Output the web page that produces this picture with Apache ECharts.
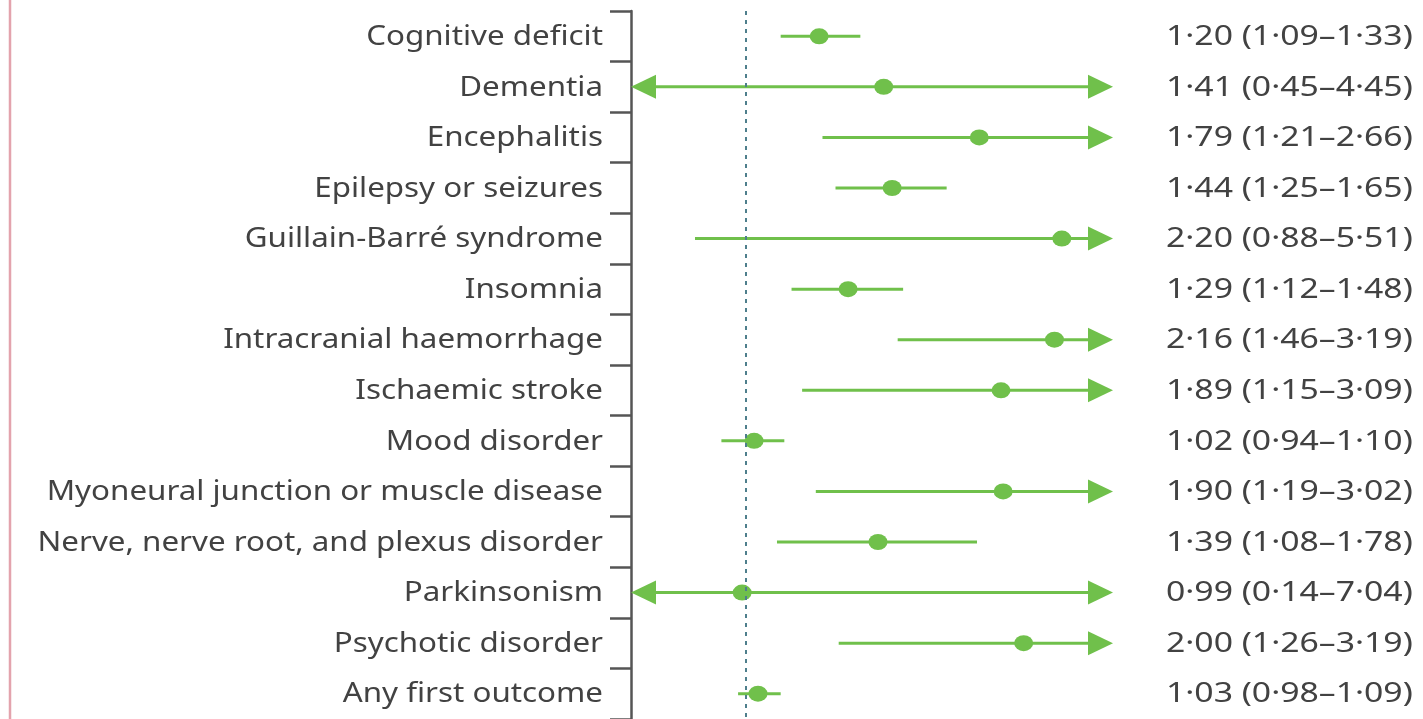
<!DOCTYPE html>
<html>
<head>
<meta charset="utf-8">
<script src="https://cdn.jsdelivr.net/npm/echarts@6/dist/echarts.min.js"></script>
<style>
  html, body { margin: 0; padding: 0; background: #fff; }
  #chart { width: 1423px; height: 719px; }
</style>
</head>
<body>
<div id="chart"></div>
<script>
const outcomes = ['Cognitive deficit', 'Dementia', 'Encephalitis', 'Epilepsy or seizures',
  'Guillain-Barré syndrome', 'Insomnia', 'Intracranial haemorrhage', 'Ischaemic stroke',
  'Mood disorder', 'Myoneural junction or muscle disease', 'Nerve, nerve root, and plexus disorder',
  'Parkinsonism', 'Psychotic disorder', 'Any first outcome'];
const hr = [1.20, 1.41, 1.79, 1.44, 2.20, 1.29, 2.16, 1.89, 1.02, 1.90, 1.39, 0.99, 2.00, 1.03];
const lower = [1.09, 0.45, 1.21, 1.25, 0.88, 1.12, 1.46, 1.15, 0.94, 1.19, 1.08, 0.14, 1.26, 0.98];
const upper = [1.33, 4.45, 2.66, 1.65, 5.51, 1.48, 3.19, 3.09, 1.10, 3.02, 1.78, 7.04, 3.19, 1.09];

const X_MIN = 0.75, X_MAX = 2.5;
const GREEN = '#70c04b';
const TEXT = '#424242';
const FONT = 'Noto Sans';

function fmt(v) { return v.toFixed(2).replace('.', '·'); }
const ciLabels = outcomes.map((_, i) => `${fmt(hr[i])} (${fmt(lower[i])}–${fmt(upper[i])})`);

const chart = echarts.init(document.getElementById('chart'));

// whisker line, with arrow heads where the interval runs off the axis
function renderCI(params, api) {
  const idx = api.value(2);
  const lo = api.value(0), hi = api.value(1);
  const p0 = api.coord([Math.max(lo, X_MIN), idx]);
  const p1 = api.coord([Math.min(hi, X_MAX), idx]);
  const y = p0[1];
  const aw = 25, ah = 12;
  let x0 = p0[0], x1 = p1[0];
  const children = [{ type: 'line',
    shape: { x1: x0 + (lo < X_MIN ? 10 : 0), y1: y, x2: x1 - (hi > X_MAX ? 10 : 0), y2: y },
    style: { stroke: GREEN, lineWidth: 3 } }];
  if (lo < X_MIN) {
    children.push({ type: 'polygon', shape: { points: [[x0, y], [x0 + aw, y - ah], [x0 + aw, y + ah]] },
      style: { fill: GREEN } });
  }
  if (hi > X_MAX) {
    children.push({ type: 'polygon', shape: { points: [[x1, y], [x1 - aw, y - ah], [x1 - aw, y + ah]] },
      style: { fill: GREEN } });
  }
  return { type: 'group', children: children };
}

// row labels (left) and estimate text (right); the source type is stretched wide
function renderLabels(params, api) {
  const idx = api.value(0);
  const pL = api.coord([X_MIN, idx]);
  const pR = api.coord([X_MAX, idx]);
  return { type: 'group', children: [{
    type: 'text', x: pL[0] - 28, y: pL[1] + 1, scaleX: 1.16,
    style: { text: outcomes[idx], fill: TEXT, fontSize: 27, fontFamily: FONT, align: 'right', verticalAlign: 'middle' }
  }, {
    type: 'text', x: pR[0] + 53, y: pR[1] + 1, scaleX: 1.25,
    style: { text: ciLabels[idx], fill: TEXT, fontSize: 27, fontFamily: FONT, align: 'left', verticalAlign: 'middle' }
  }] };
}

chart.setOption({
  animation: false,
  grid: { left: 631, top: 11, width: 482, height: 713 },
  xAxis: {
    type: 'log', min: X_MIN, max: X_MAX, show: false
  },
  yAxis: {
    type: 'category',
    data: outcomes,
    inverse: true,
    axisLine: { show: true, lineStyle: { color: '#555', width: 2.5 } },
    axisTick: { show: true, length: 21, lineStyle: { color: '#555', width: 2.5 } },
    axisLabel: { show: false }
  },
  graphic: [{
    type: 'line', shape: { x1: 10, y1: 0, x2: 10, y2: 719 },
    style: { stroke: '#e3a3ad', lineWidth: 2.5 }
  }],
  series: [{
    type: 'custom',
    renderItem: renderLabels,
    data: outcomes.map((_, i) => [i]),
    encode: { y: 0 },
    silent: true
  }, {
    type: 'custom',
    renderItem: renderCI,
    data: outcomes.map((_, i) => [lower[i], upper[i], i]),
    encode: { x: [0, 1], y: 2 },
    z: 2
  }, {
    type: 'scatter',
    data: outcomes.map((_, i) => [hr[i], i]),
    symbolSize: [19, 16],
    itemStyle: { color: GREEN, opacity: 1 },
    z: 3,
    markLine: {
      silent: true,
      symbol: 'none',
      label: { show: false },
      lineStyle: { color: '#4e7f8c', type: [4, 5], width: 2 },
      data: [{ xAxis: 1 }]
    }
  }]
});
</script>
</body>
</html>
